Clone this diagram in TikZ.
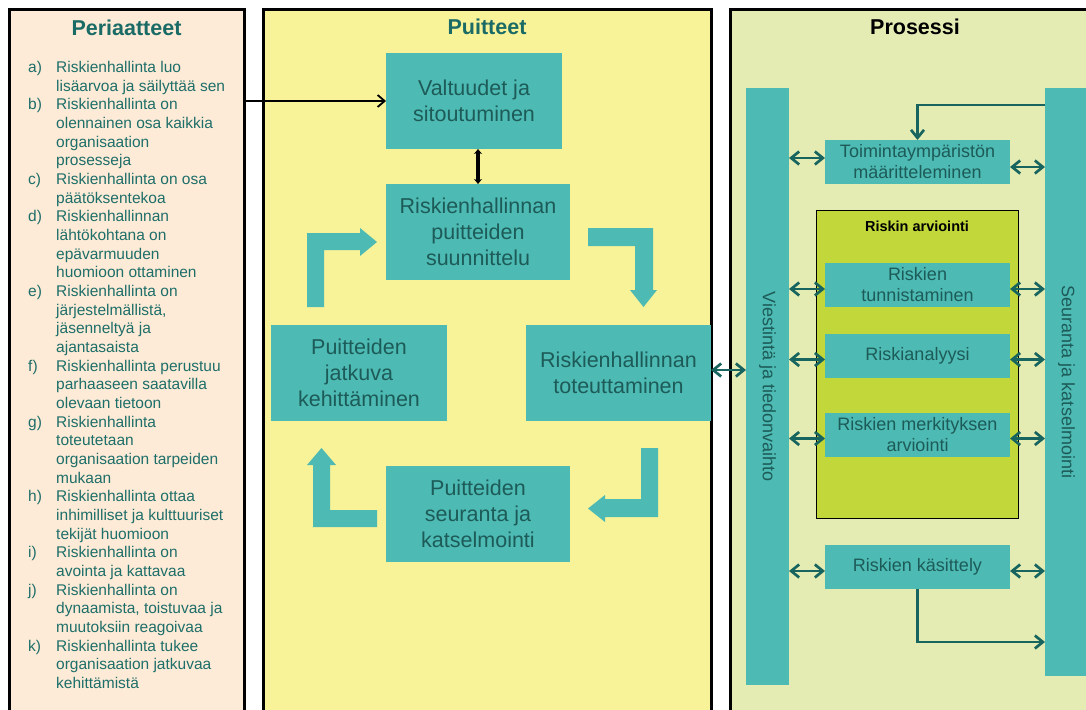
\documentclass[tikz,border=0pt]{standalone}
\usepackage{fontspec}
\setmainfont{Liberation Sans}
\usetikzlibrary{arrows.meta}
\definecolor{peach}{HTML}{FDEBD7}
\definecolor{paleyellow}{HTML}{F8F299}
\definecolor{palegreen}{HTML}{E5ECB3}
\definecolor{tealbox}{HTML}{4DBAB3}
\definecolor{limebox}{HTML}{C1D73A}
\definecolor{titleteal}{HTML}{1A6B66}
\definecolor{listteal}{HTML}{1E6E69}
\definecolor{boxtext}{HTML}{1D5B58}
\definecolor{arrowteal}{HTML}{18655F}
\begin{document}
\begin{tikzpicture}[x=1pt,y=-1pt,
  panel/.style={draw=black, line width=3pt, inner sep=0, outer sep=0, anchor=north west},
  paneltitle/.style={font=\fontsize{21.5}{26}\selectfont\bfseries, inner sep=0},
  listtxt/.style={anchor=base west, inner sep=0, text=listteal, font=\fontsize{15.5}{18.67}\selectfont},
  bigbox/.style={fill=tealbox, inner sep=0, outer sep=0, align=center, text=boxtext,
    font=\fontsize{21.5}{26}\selectfont},
  smallbox/.style={fill=tealbox, inner sep=0, outer sep=0, align=center, text=boxtext,
    minimum width=185, minimum height=44, font=\fontsize{18}{21}\selectfont},
  bar/.style={fill=tealbox, inner sep=0, outer sep=0, minimum width=43},
  bartext/.style={rotate=-90, text=boxtext, inner sep=0, font=\fontsize{18}{21}\selectfont},
  bentarrow/.style={fill=tealbox},
  dblteal/.style={draw=arrowteal, line width=2.7pt,
    {Straight Barb[length=8pt,width=13pt]}-{Straight Barb[length=8pt,width=13pt]}},
  oneteal/.style={draw=arrowteal, line width=2.7pt, -{Straight Barb[length=8pt,width=13pt]}},
]
\useasboundingbox (0,0) rectangle (1086,709);
\fill[white] (0,0) rectangle (1086,709);
\begin{scope}
\clip (0,0) rectangle (1086,709);

% ---------- three panels ----------
\node[panel, fill=peach, minimum width=235, minimum height=720] (periaatteet) at (9.5,9.5) {};
\node[panel, fill=paleyellow, minimum width=448, minimum height=720] (puitteet) at (263.5,9.5) {};
\node[panel, fill=palegreen, minimum width=400, minimum height=720] (prosessi) at (730,9.5) {};

\node[paneltitle, text=titleteal] (t1) at (126.5,28) {Periaatteet};
\node[paneltitle, text=titleteal] (t2) at (487,27) {Puitteet};
\node[paneltitle, text=black] (t3) at (915,27) {Prosessi};

% ---------- principles list ----------
\foreach \i/\l in {0/{a)},2/{b)},6/{c)},8/{d)},12/{e)},16/{f)},19/{g)},23/{h)},26/{i)},28/{j)},31/{k)}}
  \node[listtxt] (lab\i) at (28,{72.5+\i*18.67}) {\l};
\foreach \i/\t in {
  0/{Riskienhallinta luo},
  1/{lisäarvoa ja säilyttää sen},
  2/{Riskienhallinta on},
  3/{olennainen osa kaikkia},
  4/{organisaation},
  5/{prosesseja},
  6/{Riskienhallinta on osa},
  7/{päätöksentekoa},
  8/{Riskienhallinnan},
  9/{lähtökohtana on},
  10/{epävarmuuden},
  11/{huomioon ottaminen},
  12/{Riskienhallinta on},
  13/{järjestelmällistä,},
  14/{jäsenneltyä ja},
  15/{ajantasaista},
  16/{Riskienhallinta perustuu},
  17/{parhaaseen saatavilla},
  18/{olevaan tietoon},
  19/{Riskienhallinta},
  20/{toteutetaan},
  21/{organisaation tarpeiden},
  22/{mukaan},
  23/{Riskienhallinta ottaa},
  24/{inhimilliset ja kulttuuriset},
  25/{tekijät huomioon},
  26/{Riskienhallinta on},
  27/{avointa ja kattavaa},
  28/{Riskienhallinta on},
  29/{dynaamista, toistuvaa ja},
  30/{muutoksiin reagoivaa},
  31/{Riskienhallinta tukee},
  32/{organisaation jatkuvaa},
  33/{kehittämistä}}
  \node[listtxt] (line\i) at (56,{72.5+\i*18.67}) {\t};

% ---------- framework boxes ----------
\node[bigbox, minimum width=176, minimum height=96] (valt) at (474,101) {Valtuudet ja\\sitoutuminen};
\node[bigbox, minimum width=184, minimum height=96] (suun) at (478,232) {Riskienhallinnan\\puitteiden\\suunnittelu};
\node[bigbox, minimum width=185, minimum height=96] (tote) at (618.5,373) {Riskienhallinnan\\toteuttaminen};
\node[bigbox, minimum width=176, minimum height=96] (kehi) at (359,373) {Puitteiden\\jatkuva\\kehittäminen};
\node[bigbox, minimum width=184, minimum height=96] (seka) at (478,514) {Puitteiden\\seuranta ja\\katselmointi};

% bent cycle arrows
\fill[bentarrow] (307,307) -- (307,233) -- (360,233) -- (360,228) -- (377,242)
  -- (360,256) -- (360,250) -- (324,250) -- (324,307) -- cycle;
\fill[bentarrow] (588,228) -- (653,228) -- (653,290) -- (657,290) -- (643.5,307)
  -- (630,290) -- (635,290) -- (635,246) -- (588,246) -- cycle;
\fill[bentarrow] (641,448) -- (658,448) -- (658,517) -- (605,517) -- (605,522)
  -- (588,508.5) -- (605,495) -- (605,499) -- (641,499) -- cycle;
\fill[bentarrow] (377,510) -- (377,527) -- (313,527) -- (313,465) -- (307,465)
  -- (321.5,448) -- (336,465) -- (330,465) -- (330,510) -- cycle;

% black connectors
\draw[line width=1.8pt, -{Straight Barb[length=7pt,width=12pt]}]
  (valt.west -| periaatteet.east) -- (valt.west);
\draw[line width=3.5pt, {Stealth[length=5pt,width=8pt]}-{Stealth[length=5pt,width=8pt]}]
  (suun.north |- valt.south) -- (suun.north);

% ---------- process side ----------
\node[bar, minimum height=597] (viest) at (767.5,386.5) {};
\node[bartext] (viestt) at (viest.center) {Viestintä ja tiedonvaihto};
\node[bar, minimum height=588] (seur) at (1066.5,382) {};
\node[bartext] (seurt) at (seur.center) {Seuranta ja katselmointi};

\node[draw=black, line width=1pt, fill=limebox, minimum width=202, minimum height=308,
  inner sep=0, outer sep=0] (arv) at (917,364) {};
\node[font=\fontsize{14.5}{17}\selectfont\bfseries, inner sep=0] (arvt) at (917,226) {Riskin arviointi};

\node[smallbox] (toim) at (917.5,162) {Toimintaympäristön\\määritteleminen};
\node[smallbox] (tunn) at (917.5,285) {Riskien\\tunnistaminen};
\node[smallbox] (anal) at (917.5,355.5) {Riskianalyysi};
\node[smallbox] (merk) at (917.5,434.5) {Riskien merkityksen\\arviointi};
\node[smallbox] (kasi) at (917.5,567) {Riskien käsittely};

% double arrows to the side bars
\draw[dblteal] ([yshift=4pt]toim.west -| viest.east) -- ([yshift=4pt]toim.west);
\draw[dblteal] ([yshift=-5pt]toim.east) -- ([yshift=-5pt]toim.east -| seur.west);
\foreach \b in {tunn,anal,merk,kasi}{
  \draw[dblteal] ([yshift=-4pt]\b.west -| viest.east) -- ([yshift=-4pt]\b.west);
  \draw[dblteal] ([yshift=-4pt]\b.east) -- ([yshift=-4pt]\b.east -| seur.west);
}
\draw[dblteal] ([yshift=3pt]tote.east) -- ([yshift=3pt]tote.east -| viest.west);

% feedback loops
\draw[oneteal] (seur.west |- 0,105) -| (toim.north);
\draw[oneteal] (kasi.south) |- (seur.west |- 0,642);
\end{scope}
\end{tikzpicture}
\end{document}
